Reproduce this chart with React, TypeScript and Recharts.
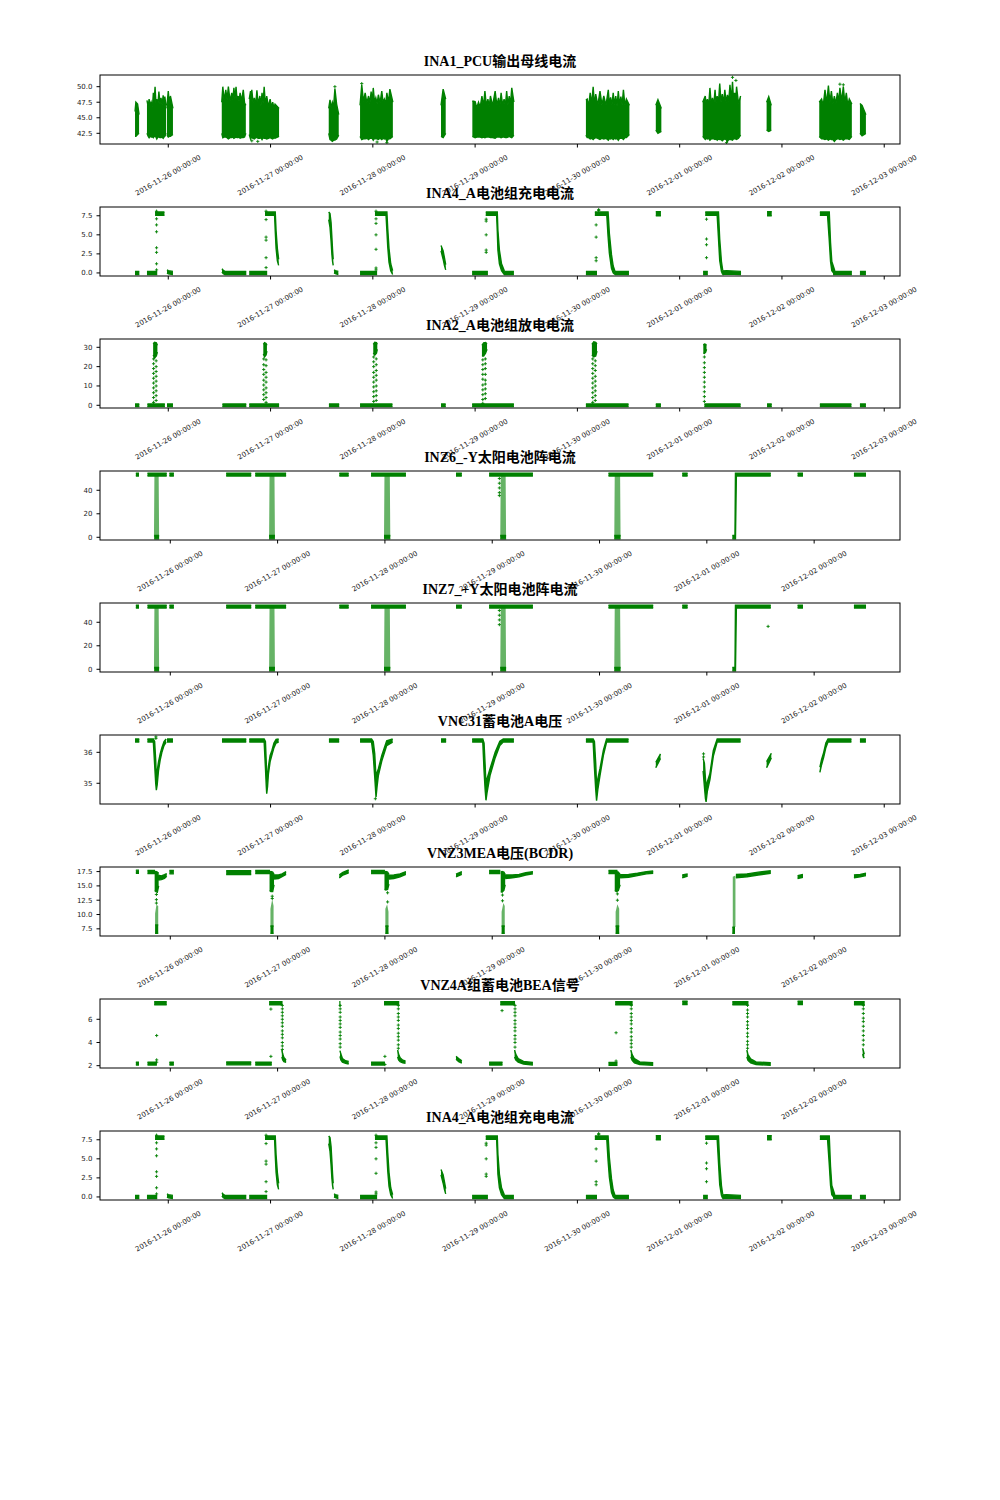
import React from 'react';
import { ComposedChart, Area, Scatter, XAxis, YAxis } from 'recharts';

const GREEN = '#008000';

// x values are hours after 2016-11-25 00:00
const dayTicks = [24, 48, 72, 96, 120, 144, 168, 192];
const dayLabels = [
  '2016-11-26 00:00:00', '2016-11-27 00:00:00', '2016-11-28 00:00:00', '2016-11-29 00:00:00',
  '2016-11-30 00:00:00', '2016-12-01 00:00:00', '2016-12-02 00:00:00', '2016-12-03 00:00:00',
];
const spanA = [7.98, 195.7];
const spanB = [8.28, 187.2];

// runs: [t, low, high] of the dense point cloud, dots: [t, [y values]] for loose points

const ina1Runs = [
  [[16.2, 42.0, 46.0], [16.4, 42.0, 47.5], [16.8, 42.3, 47.2], [17.15, 42.5, 45.5]],
  [[19.0, 42.5, 47.8], [19.3, 42.0, 46.8], [19.5, 41.8, 48.0], [19.8, 42.1, 46.9], [20.0, 41.9, 47.5], [20.3, 41.9, 46.8], [20.5, 41.8, 49.0], [20.7, 42.0, 47.6], [20.9, 42.0, 50.0], [21.1, 41.9, 47.4], [21.3, 41.6, 48.0], [21.55, 41.9, 46.9], [21.8, 41.9, 49.2], [22.05, 41.8, 47.2], [22.3, 41.8, 48.2], [22.55, 41.9, 47.0], [22.8, 41.7, 48.6], [23.0, 41.9, 47.3], [23.2, 42.0, 48.4], [23.5, 42.5, 46.5]],
  [[23.7, 42.2, 47.0], [24.0, 41.9, 49.3], [24.25, 42.0, 47.2], [24.5, 42.0, 48.5], [25.1, 42.3, 46.5]],
  [[36.55, 42.5, 47.5], [36.8, 41.8, 50.0], [37.1, 41.9, 47.8], [37.5, 41.9, 49.5], [37.8, 41.8, 47.9], [38.1, 41.6, 50.0], [38.5, 41.8, 47.7], [38.9, 41.8, 49.0], [39.15, 41.9, 47.9], [39.4, 41.7, 49.8], [39.65, 41.8, 48.0], [39.9, 41.9, 50.0], [40.15, 41.8, 47.8], [40.4, 41.8, 48.5], [40.6, 41.9, 47.6], [40.85, 41.7, 49.0], [41.2, 41.8, 47.7], [41.6, 41.8, 49.5], [41.9, 41.9, 47.4], [42.2, 42.5, 47.0]],
  [[43.0, 42.3, 48.0], [43.3, 41.6, 49.3], [43.45, 41.8, 47.6], [43.6, 41.8, 49.5], [43.9, 41.7, 47.4], [44.2, 41.6, 48.2], [44.5, 41.8, 47.0], [44.8, 41.8, 49.4], [45.1, 41.7, 47.2], [45.5, 41.7, 48.5], [45.75, 41.8, 46.9], [46.0, 41.5, 49.0], [46.25, 41.8, 47.3], [46.5, 41.7, 50.0], [46.8, 41.7, 47.0], [47.1, 41.6, 48.5], [47.5, 41.7, 46.8], [47.9, 41.8, 48.0], [48.2, 41.7, 46.7], [48.5, 41.6, 47.5], [48.8, 41.8, 46.6], [49.05, 41.7, 47.2], [50.0, 42.0, 46.5]],
  [[61.65, 42.5, 46.5], [61.95, 41.5, 47.9], [62.2, 41.4, 46.6], [62.5, 41.2, 47.5], [62.8, 41.4, 46.8], [63.1, 41.4, 49.7], [63.5, 41.6, 47.2], [64.0, 42.2, 45.5]],
  [[69.0, 42.0, 47.0], [69.4, 41.5, 50.3], [69.8, 41.6, 47.6], [70.2, 41.6, 49.0], [70.6, 41.7, 47.4], [71.0, 41.5, 48.5], [71.3, 41.7, 47.3], [71.6, 41.7, 49.2], [71.85, 41.7, 47.6], [72.1, 41.4, 49.8], [72.4, 41.7, 47.5], [72.7, 41.6, 48.2], [73.0, 41.6, 47.3], [73.3, 41.5, 48.7], [73.7, 41.7, 47.4], [74.1, 41.5, 49.3], [74.4, 41.7, 47.5], [74.7, 41.6, 48.0], [75.0, 41.7, 47.2], [75.3, 41.2, 49.0], [75.65, 41.6, 47.4], [76.0, 41.6, 49.6], [76.7, 42.0, 47.5]],
  [[88.0, 42.0, 47.0], [88.5, 41.8, 49.6], [89.1, 42.5, 48.0]],
  [[95.35, 42.0, 47.7], [96.0, 41.8, 47.6], [96.4, 41.9, 46.6], [96.8, 41.9, 47.5], [97.2, 41.9, 46.7], [97.6, 41.8, 48.5], [97.95, 41.9, 46.8], [98.3, 41.8, 49.3], [98.65, 41.9, 46.9], [99.0, 41.9, 48.0], [99.3, 41.9, 46.8], [99.6, 41.8, 48.5], [100.1, 41.8, 46.9], [100.7, 41.7, 49.3], [101.1, 41.9, 47.0], [101.5, 41.9, 48.2], [101.8, 41.9, 46.8], [102.1, 41.8, 49.0], [102.45, 41.9, 47.0], [102.8, 41.9, 48.0], [103.1, 41.8, 46.9], [103.4, 41.8, 49.3], [103.7, 41.9, 47.1], [104.0, 42.0, 48.5], [104.3, 41.9, 47.2], [104.6, 41.8, 49.8], [105.1, 42.2, 47.5]],
  [[122.0, 42.2, 47.8], [122.3, 41.8, 48.0], [122.65, 41.8, 46.9], [123.0, 41.6, 49.0], [123.35, 41.7, 47.2], [123.7, 41.5, 50.0], [124.0, 41.7, 47.0], [124.3, 41.8, 48.8], [124.8, 41.7, 47.0], [125.3, 41.5, 49.3], [125.75, 41.7, 47.1], [126.2, 41.6, 48.5], [126.7, 41.7, 47.0], [127.25, 41.4, 49.5], [127.5, 41.7, 47.2], [127.8, 41.6, 48.3], [128.1, 41.7, 47.0], [128.4, 41.5, 49.0], [128.7, 41.7, 47.1], [129.0, 41.6, 48.5], [129.3, 41.7, 46.9], [129.6, 41.4, 49.3], [129.9, 41.7, 47.0], [130.2, 41.7, 48.4], [130.5, 41.7, 47.1], [130.8, 41.5, 49.5], [131.15, 41.8, 47.0], [131.5, 41.8, 48.0], [132.2, 42.3, 47.0]],
  [[138.4, 43.0, 47.0], [138.9, 42.5, 47.9], [139.7, 42.8, 46.5]],
  [[149.4, 42.0, 47.5], [150.0, 41.5, 48.5], [150.25, 41.7, 47.0], [150.5, 41.6, 48.0], [150.8, 41.7, 46.9], [151.1, 41.4, 49.8], [151.4, 41.6, 47.2], [151.7, 41.6, 48.2], [152.0, 41.6, 47.0], [152.3, 41.5, 49.5], [152.55, 41.6, 47.3], [152.8, 41.4, 48.5], [153.1, 41.6, 47.4], [153.4, 41.5, 50.5], [153.7, 41.5, 47.5], [154.0, 41.3, 48.8], [154.3, 41.5, 47.3], [154.6, 41.6, 49.5], [154.9, 41.5, 47.4], [155.2, 41.2, 48.7], [155.5, 41.5, 47.6], [155.8, 41.5, 50.3], [156.1, 41.5, 47.8], [156.4, 41.4, 50.8], [156.65, 41.6, 47.6], [156.9, 41.6, 49.0], [157.1, 41.6, 47.5], [157.35, 41.5, 50.0], [157.8, 41.7, 47.3], [158.3, 42.2, 48.5]],
  [[164.4, 43.0, 47.5], [164.9, 42.8, 48.4], [165.5, 43.0, 47.0]],
  [[176.75, 42.0, 47.5], [177.3, 41.6, 48.0], [177.7, 41.6, 47.0], [178.1, 41.5, 49.5], [178.5, 41.6, 47.3], [178.9, 41.4, 50.2], [179.25, 41.6, 47.4], [179.6, 41.5, 49.3], [179.95, 41.5, 47.2], [180.3, 41.2, 48.5], [180.65, 41.5, 47.2], [181.0, 41.6, 49.0], [181.3, 41.6, 47.5], [181.6, 41.5, 49.8], [182.0, 41.6, 47.6], [182.4, 41.4, 50.0], [182.75, 41.6, 47.4], [183.1, 41.6, 49.0], [183.45, 41.6, 47.0], [183.8, 41.5, 48.0], [184.4, 42.0, 47.2]],
  [[186.3, 42.5, 47.3], [186.8, 42.1, 47.0], [187.7, 42.5, 45.5]],
];
const ina1Dots = [
  [43.6, [41.3]], [45.0, [41.2]], [63.1, [50.0]], [69.4, [50.5]], [73.0, [41.1]], [75.3, [41.0]],
  [155.0, [41.0]], [156.4, [51.5]], [157.2, [51.0]], [181.6, [50.4]], [182.4, [50.3]],
];

const ina4Runs = [
  [[16.2, -0.2, 0.2], [17.2, -0.2, 0.2]],
  [[19.0, -0.2, 0.2], [21.4, -0.2, 0.2]],
  [[20.9, 7.55, 8.0], [23.1, 7.55, 8.0]],
  [[23.7, 0.0, 0.4], [24.0, -0.1, 0.3], [25.1, -0.2, 0.2]],
  [[36.6, 0.15, 0.55], [36.9, -0.1, 0.35], [37.3, -0.2, 0.2], [42.3, -0.2, 0.2]],
  [[43.0, -0.2, 0.2], [47.2, -0.2, 0.2]],
  [[46.7, 7.55, 8.0], [48.95, 7.55, 8.0], [49.1, 5.5, 8.0], [49.3, 3.2, 5.5], [49.6, 1.6, 3.2], [49.9, 1.0, 1.8]],
  [[61.65, 7.0, 8.0], [61.95, 6.0, 7.8], [62.2, 4.2, 6.6], [62.4, 2.4, 4.6], [62.55, 1.5, 3.0], [62.7, 1.0, 1.8]],
  [[62.9, 0.0, 0.4], [63.2, -0.1, 0.3], [63.9, -0.2, 0.2]],
  [[69.0, -0.2, 0.2], [73.0, -0.2, 0.2]],
  [[72.5, 7.55, 8.0], [75.1, 7.55, 8.0], [75.3, 5.5, 8.0], [75.5, 3.4, 5.8], [75.8, 1.4, 3.2], [76.2, 0.3, 1.2], [76.65, -0.2, 0.3]],
  [[88.0, 2.9, 3.6], [88.5, 1.8, 2.9], [88.8, 1.0, 2.0], [89.1, 0.4, 1.1]],
  [[95.3, -0.2, 0.2], [99.0, -0.2, 0.2]],
  [[98.5, 7.55, 8.0], [101.05, 7.55, 8.0], [101.2, 5.5, 8.0], [101.35, 3.0, 5.6], [101.7, 1.2, 3.0], [102.2, 0.3, 1.2], [102.85, -0.2, 0.3]],
  [[102.8, -0.2, 0.2], [105.1, -0.2, 0.2]],
  [[122.0, -0.2, 0.2], [124.6, -0.2, 0.2]],
  [[124.1, 7.55, 8.0], [126.9, 7.55, 8.0], [127.2, 4.8, 8.0], [127.5, 2.6, 5.2], [128.0, 0.6, 2.4], [128.4, 0.0, 0.9], [128.8, -0.2, 0.25]],
  [[128.8, -0.2, 0.2], [132.1, -0.2, 0.2]],
  [[138.4, 7.5, 8.05], [139.6, 7.5, 8.05]],
  [[149.5, -0.2, 0.2], [150.6, -0.2, 0.2]],
  [[150.0, 7.55, 8.0], [152.8, 7.55, 8.0], [153.1, 4.6, 8.0], [153.4, 1.6, 4.4], [153.8, 0.2, 1.5], [154.1, -0.2, 0.35]],
  [[154.1, -0.2, 0.25], [155.0, -0.15, 0.3], [158.4, -0.2, 0.2]],
  [[164.5, 7.5, 8.05], [165.6, 7.5, 8.05]],
  [[176.9, 7.55, 8.0], [178.7, 7.55, 8.0], [179.1, 4.3, 8.0], [179.4, 1.5, 4.0], [179.7, 0.3, 1.5], [180.4, -0.2, 0.3]],
  [[180.0, -0.2, 0.2], [184.4, -0.2, 0.2]],
  [[186.3, -0.2, 0.2], [187.7, -0.2, 0.2]],
];
const ina4Dots = [
  [21.25, [8.1, 7.1, 6.3, 5.4, 3.3, 2.7, 1.2, 0.4]],
  [46.95, [8.1, 7.0, 4.7, 4.3, 2.0, 0.7]],
  [72.75, [8.1, 7.1, 6.5, 5.0, 3.1, 0.65, 0.4]],
  [98.6, [7.05, 6.8, 5.0, 3.0, 2.7]],
  [124.4, [6.3, 4.7, 2.0, 1.6]],
  [125.0, [8.3, 8.2]],
  [150.3, [7.05, 4.45, 3.7, 2.0]],
];

const ina2Runs = [
  [[16.2, -0.7, 0.7], [17.2, -0.7, 0.7]],
  [[19.1, -0.7, 0.7], [23.2, -0.7, 0.7]],
  [[20.45, 26, 31.8], [20.8, 24.5, 32.6], [21.2, 25.5, 32.3], [21.45, 27.5, 31]],
  [[23.7, -0.7, 0.7], [25.1, -0.7, 0.7]],
  [[36.7, -0.7, 0.7], [42.3, -0.7, 0.7]],
  [[43.0, -0.7, 0.7], [50.0, -0.7, 0.7]],
  [[46.3, 26.5, 31.5], [46.6, 25, 32.4], [46.95, 26, 32], [47.15, 28, 31]],
  [[61.7, -0.7, 0.7], [64.1, -0.7, 0.7]],
  [[69.0, -0.7, 0.7], [76.6, -0.7, 0.7]],
  [[72.1, 27, 31.5], [72.45, 26, 32.6], [72.85, 27, 32.4], [73.05, 29, 31.5]],
  [[88.0, -0.7, 0.7], [89.1, -0.7, 0.7]],
  [[95.3, -0.7, 0.7], [105.1, -0.7, 0.7]],
  [[97.6, 25.5, 31], [98.0, 25.5, 32.3], [98.45, 27, 32.5], [98.8, 29, 31.8]],
  [[122.0, -0.7, 0.7], [132.0, -0.7, 0.7]],
  [[123.4, 26, 31.5], [123.85, 25, 32.9], [124.3, 25.5, 32.6], [124.6, 28, 31.8]],
  [[138.4, -0.7, 0.7], [139.6, -0.7, 0.7]],
  [[149.8, -0.7, 0.7], [158.3, -0.7, 0.7]],
  [[149.55, 27, 31.2], [149.8, 26.8, 31.7], [150.1, 27.5, 31.5], [150.3, 29, 31]],
  [[164.5, -0.7, 0.7], [165.6, -0.7, 0.7]],
  [[176.9, -0.7, 0.7], [184.3, -0.7, 0.7]],
  [[186.3, -0.7, 0.7], [187.7, -0.7, 0.7]],
];
const ina2Dots = [
  [20.55, [24, 21.5, 19, 16.5, 14, 11.5, 9, 6.5, 4, 1.5]],
  [21.15, [23, 20, 17.5, 15, 12.5, 10, 7.5, 5, 2.5]],
  [46.4, [24, 21, 18.5, 16, 13, 10.5, 8, 5.5, 3]],
  [46.95, [23.5, 20.5, 17, 14.5, 12, 9, 6.5, 4, 1.5]],
  [72.2, [25, 22.5, 20, 17, 14.5, 12, 9.5, 7, 4.5, 2]],
  [72.8, [24, 21, 18, 15.5, 13, 10, 7.5, 5, 2.5]],
  [97.8, [23.5, 21, 18.5, 16, 13.5, 10.5, 8, 5.5, 3, 1]],
  [98.4, [24, 21.5, 19, 16, 13, 11, 8.5, 6, 3.5]],
  [123.6, [24, 21.5, 19, 16.5, 14, 11.5, 9, 6.5, 4, 1.5]],
  [124.2, [23, 20.5, 18, 15, 12.5, 10, 7.5, 5, 2.5]],
  [149.8, [25, 22, 19.5, 17, 14.5, 12, 9.5, 7, 4.5, 2]],
];

const inz6Runs = [
  [[16.3, 52.2, 54.6], [17.0, 52.2, 54.6]],
  [[18.9, 52.2, 54.6], [23.2, 52.2, 54.6]],
  [[20.4, -1.3, 1.6], [21.5, -1.3, 1.6]],
  [[23.8, 52.2, 54.6], [24.8, 52.2, 54.6]],
  [[36.5, 52.2, 54.6], [42.1, 52.2, 54.6]],
  [[43.0, 52.2, 54.6], [49.9, 52.2, 54.6]],
  [[46.1, -1.3, 1.6], [47.4, -1.3, 1.6]],
  [[61.8, 52.2, 54.6], [63.9, 52.2, 54.6]],
  [[68.9, 52.2, 54.6], [76.7, 52.2, 54.6]],
  [[71.8, -1.3, 1.6], [73.2, -1.3, 1.6]],
  [[87.9, 52.2, 54.6], [89.2, 52.2, 54.6]],
  [[95.3, 52.2, 54.6], [105.1, 52.2, 54.6]],
  [[97.8, -1.3, 1.6], [99.1, -1.3, 1.6]],
  [[122.0, 52.2, 54.6], [132.0, 52.2, 54.6]],
  [[123.3, -1.3, 1.6], [124.7, -1.3, 1.6]],
  [[138.5, 52.2, 54.6], [139.7, 52.2, 54.6]],
  [[149.7, -1.3, 1.6], [150.3, -1.3, 1.6], [150.4, -1.3, 54.6], [150.6, 52.2, 54.6], [158.3, 52.2, 54.6]],
  [[164.3, 52.2, 54.6], [165.5, 52.2, 54.6]],
  [[176.9, 52.2, 54.6], [179.6, 52.2, 54.6]],
];
const inz6Haze = [
  [[20.35, 0, 1], [20.45, 0, 53.4], [21.4, 0, 53.4], [21.5, 0, 1]],
  [[46.1, 0, 1], [46.2, 0, 53.4], [47.3, 0, 53.4], [47.4, 0, 1]],
  [[71.8, 0, 1], [71.9, 0, 53.4], [73.1, 0, 53.4], [73.2, 0, 1]],
  [[97.8, 0, 1], [97.9, 0, 53.4], [99.0, 0, 53.4], [99.1, 0, 1]],
  [[123.3, 0, 1], [123.4, 0, 53.4], [124.6, 0, 53.4], [124.7, 0, 1]],
];
const inz6Dots = [[97.6, [50, 46, 42, 38, 35.5]]];
const inz7Dots = [[97.6, [50, 46, 42, 38]], [157.7, [36.5]]];

const vnc31Runs = [
  [[16.2, 36.33, 36.43], [17.2, 36.33, 36.43]],
  [[19.1, 36.33, 36.43], [20.5, 36.33, 36.43], [20.8, 35.6, 36.35], [21.05, 35.0, 35.75], [21.2, 34.78, 35.15], [21.4, 34.95, 35.4], [21.7, 35.4, 35.68], [22.1, 35.75, 35.95], [22.5, 36.0, 36.15], [23.0, 36.22, 36.35], [23.5, 36.33, 36.43]],
  [[23.7, 36.33, 36.43], [25.1, 36.33, 36.43]],
  [[36.6, 36.33, 36.43], [42.3, 36.33, 36.43]],
  [[43.0, 36.33, 36.43], [46.5, 36.33, 36.43], [46.8, 35.5, 36.35], [47.0, 34.9, 35.65], [47.1, 34.66, 35.05], [47.3, 34.9, 35.3], [47.5, 35.3, 35.55], [47.9, 35.7, 35.9], [48.3, 35.9, 36.05], [48.8, 36.15, 36.3], [49.3, 36.3, 36.42], [49.9, 36.33, 36.43]],
  [[61.7, 36.33, 36.43], [64.1, 36.33, 36.43]],
  [[69.0, 36.33, 36.43], [71.7, 36.33, 36.43], [72.1, 35.9, 36.35], [72.45, 35.2, 35.95], [72.75, 34.55, 35.15], [73.0, 34.9, 35.35], [73.3, 35.25, 35.47], [74.1, 35.72, 35.9], [75.25, 36.22, 36.37], [76.65, 36.33, 36.43]],
  [[88.0, 36.33, 36.43], [89.2, 36.33, 36.43]],
  [[95.3, 36.33, 36.43], [97.8, 36.33, 36.43], [98.1, 35.4, 36.3], [98.35, 34.8, 35.6], [98.55, 34.45, 34.95], [98.8, 34.7, 35.15], [99.5, 35.25, 35.47], [100.7, 35.82, 36.0], [101.8, 36.22, 36.36], [102.6, 36.33, 36.43], [105.1, 36.33, 36.43]],
  [[122.0, 36.33, 36.43], [123.7, 36.33, 36.43], [124.0, 35.5, 36.35], [124.3, 34.8, 35.65], [124.5, 34.44, 34.95], [124.8, 34.8, 35.15], [125.3, 35.25, 35.47], [126.1, 35.9, 36.07], [126.85, 36.33, 36.43], [132.0, 36.33, 36.43]],
  [[138.4, 35.5, 35.68], [139.5, 35.8, 35.95]],
  [[149.5, 35.4, 35.8], [149.8, 34.9, 35.65], [150.05, 34.5, 35.15], [150.2, 34.4, 34.85], [150.5, 34.75, 35.05], [151.1, 35.12, 35.32], [151.9, 35.88, 36.06], [152.8, 36.33, 36.43], [158.3, 36.33, 36.43]],
  [[164.4, 35.5, 35.7], [165.5, 35.82, 35.97]],
  [[176.9, 35.35, 35.52], [177.3, 35.6, 35.77], [177.8, 35.85, 36.0], [178.3, 36.15, 36.3], [178.8, 36.33, 36.43], [184.3, 36.33, 36.43]],
  [[186.3, 36.33, 36.43], [187.7, 36.33, 36.43]],
];
const vnc31Dots = [[21.1, [36.5, 36.45]], [72.6, [34.5]], [149.6, [35.95, 35.85]]];

const vnz3Runs = [
  [[16.3, 17.2, 17.75], [17.0, 17.2, 17.75]],
  [[18.9, 17.15, 17.7], [20.6, 17.15, 17.7]],
  [[20.5, 14.2, 17.4], [20.8, 14.0, 17.5], [21.1, 13.9, 17.4], [21.4, 15.0, 17.2]],
  [[20.6, 6.7, 8.2], [21.3, 6.7, 8.2]],
  [[21.3, 16.0, 16.85], [22.0, 16.1, 16.75], [22.7, 16.3, 16.95], [23.2, 16.7, 17.15]],
  [[23.8, 17.1, 17.7], [24.8, 17.1, 17.7]],
  [[36.5, 17.0, 17.65], [42.1, 17.0, 17.65]],
  [[43.0, 17.15, 17.7], [46.3, 17.15, 17.7]],
  [[46.2, 14.2, 17.4], [46.5, 14.0, 17.5], [46.9, 14.0, 17.4], [47.2, 15.2, 17.0]],
  [[46.4, 6.7, 8.0], [47.1, 6.7, 8.0]],
  [[47.2, 16.2, 16.9], [48.2, 16.3, 16.9], [49.0, 16.6, 17.1], [49.9, 17.0, 17.5]],
  [[61.8, 16.4, 16.95], [62.6, 16.9, 17.35], [63.9, 17.3, 17.8]],
  [[68.9, 17.15, 17.7], [72.0, 17.15, 17.7]],
  [[71.9, 14.4, 17.4], [72.2, 14.3, 17.5], [72.6, 14.4, 17.4], [72.9, 15.3, 17.0]],
  [[72.1, 6.7, 8.0], [72.8, 6.7, 8.0]],
  [[72.9, 16.2, 16.85], [74.0, 16.3, 16.9], [75.4, 16.6, 17.1], [76.7, 17.0, 17.5]],
  [[87.9, 16.6, 17.05], [89.2, 17.0, 17.5]],
  [[95.3, 17.15, 17.7], [97.8, 17.15, 17.7]],
  [[97.9, 14.0, 17.4], [98.2, 13.9, 17.5], [98.6, 14.2, 17.4], [98.9, 15.2, 17.0]],
  [[98.1, 6.7, 8.0], [98.8, 6.7, 8.0]],
  [[98.9, 16.3, 16.9], [100.5, 16.4, 16.9], [102.0, 16.6, 17.0], [103.5, 16.9, 17.3], [105.1, 17.1, 17.5]],
  [[122.0, 17.15, 17.7], [124.0, 17.15, 17.7]],
  [[123.4, 14.2, 17.4], [123.8, 14.0, 17.5], [124.2, 14.2, 17.4], [124.6, 15.2, 17.0]],
  [[123.6, 6.7, 8.0], [124.4, 6.7, 8.0]],
  [[124.6, 16.4, 16.95], [126.5, 16.5, 17.0], [128.5, 16.8, 17.2], [130.5, 17.1, 17.5], [132.0, 17.2, 17.6]],
  [[138.5, 16.4, 16.9], [139.7, 16.7, 17.1]],
  [[149.7, 6.7, 7.8], [150.3, 6.7, 7.8]],
  [[150.5, 16.4, 17.0], [153.0, 16.6, 17.1], [155.5, 16.9, 17.4], [158.3, 17.2, 17.65]],
  [[164.3, 16.3, 16.8], [165.5, 16.5, 17.0]],
  [[176.9, 16.4, 16.9], [178.3, 16.6, 17.0], [179.6, 16.8, 17.2]],
];
const vnz3Haze = [
  [[20.6, 8.2, 10.2], [20.9, 8.2, 11.7], [21.3, 8.2, 11.5]],
  [[46.4, 8.0, 11.0], [46.8, 8.0, 12.7], [47.1, 8.0, 11.5]],
  [[72.1, 8.0, 11.0], [72.5, 8.0, 11.8], [72.8, 8.0, 10.5]],
  [[98.1, 8.0, 10.5], [98.5, 8.0, 12.0], [98.8, 8.0, 11.5]],
  [[123.6, 8.0, 10.5], [124.0, 8.0, 11.8], [124.4, 8.0, 11.0]],
  [[149.8, 7.8, 16.6], [150.4, 7.8, 16.8]],
];
const vnz3Dots = [[20.9, [13.5, 12.6, 12.0]], [46.8, [13.2, 12.8]], [72.6, [13.8, 12.2]], [98.3, [13.4, 12.4]], [124.0, [13.6, 12.5]]];

const vnz4Runs = [
  [[16.3, 2.05, 2.3], [17.0, 2.05, 2.3]],
  [[18.9, 2.05, 2.3], [21.0, 2.05, 2.3]],
  [[20.4, 7.25, 7.52], [23.2, 7.25, 7.52]],
  [[23.8, 2.05, 2.3], [24.8, 2.05, 2.3]],
  [[36.5, 2.07, 2.32], [42.1, 2.07, 2.32]],
  [[43.0, 2.05, 2.3], [46.7, 2.05, 2.3]],
  [[46.1, 7.25, 7.52], [49.1, 7.25, 7.52]],
  [[48.95, 2.75, 3.35], [49.15, 2.5, 3.0], [49.4, 2.35, 2.7], [49.9, 2.28, 2.5]],
  [[61.8, 7.15, 7.52], [62.05, 7.15, 7.52]],
  [[61.95, 2.8, 3.3], [62.15, 2.5, 3.0], [62.5, 2.3, 2.62], [63.2, 2.2, 2.42], [63.9, 2.15, 2.37]],
  [[68.9, 2.05, 2.3], [72.0, 2.05, 2.3]],
  [[71.8, 7.25, 7.52], [75.2, 7.25, 7.52]],
  [[74.85, 2.75, 3.35], [75.05, 2.5, 3.0], [75.4, 2.35, 2.68], [76.0, 2.25, 2.47], [76.6, 2.2, 2.4]],
  [[87.9, 2.55, 2.8], [88.5, 2.35, 2.62], [89.2, 2.22, 2.42]],
  [[95.3, 2.05, 2.3], [98.3, 2.05, 2.3]],
  [[97.8, 7.25, 7.52], [101.1, 7.25, 7.52]],
  [[101.0, 2.75, 3.35], [101.25, 2.5, 3.0], [101.8, 2.3, 2.62], [103.0, 2.15, 2.37], [105.1, 2.05, 2.27]],
  [[122.0, 2.03, 2.27], [124.0, 2.03, 2.27]],
  [[123.5, 7.25, 7.52], [127.4, 7.25, 7.52]],
  [[127.0, 2.75, 3.35], [127.3, 2.45, 2.95], [127.8, 2.25, 2.6], [129.0, 2.1, 2.32], [132.0, 2.03, 2.25]],
  [[138.5, 7.28, 7.55], [139.7, 7.28, 7.55]],
  [[149.7, 7.25, 7.52], [153.3, 7.25, 7.52]],
  [[152.95, 2.75, 3.35], [153.2, 2.45, 2.95], [153.8, 2.25, 2.58], [155.0, 2.1, 2.32], [158.3, 2.03, 2.25]],
  [[164.3, 7.28, 7.55], [165.5, 7.28, 7.55]],
  [[176.9, 7.25, 7.52], [179.3, 7.25, 7.52]],
  [[178.85, 3.0, 3.5], [179.0, 2.75, 3.3], [179.2, 2.65, 3.0]],
];
const vnz4Dots = [
  [20.95, [4.6, 2.5, 2.3]],
  [46.5, [6.88, 2.8]],
  [49.06, [7.2, 6.9, 6.6, 6.3, 6.0, 5.7, 5.4, 5.0, 4.7, 4.4, 4.0, 3.7, 3.4]],
  [62.0, [7.2, 6.9, 6.6, 6.2, 5.9, 5.6, 5.3, 4.9, 4.6, 4.3, 3.9, 3.6]],
  [72.0, [2.8, 2.1]],
  [75.0, [7.2, 6.9, 6.5, 6.2, 5.9, 5.5, 5.2, 4.8, 4.5, 4.2, 3.8, 3.5]],
  [98.2, [6.75]],
  [101.1, [7.2, 6.9, 6.6, 6.3, 5.9, 5.6, 5.3, 5.0, 4.6, 4.3, 4.0, 3.6]],
  [123.7, [4.84, 2.4]],
  [127.1, [7.2, 6.9, 6.5, 6.2, 5.9, 5.6, 5.2, 4.9, 4.5, 4.2, 3.9, 3.6]],
  [153.1, [7.2, 6.8, 6.5, 6.2, 5.8, 5.5, 5.2, 4.8, 4.5, 4.1, 3.8, 3.5]],
  [179.0, [7.2, 6.9, 6.5, 6.1, 5.8, 5.4, 5.0, 4.6, 4.2, 3.8]],
];

const panels: any[] = [
  { title: 'INA1_PCU输出母线电流', runs: ina1Runs, haze: [], dots: ina1Dots, span: spanA, yDomain: [40.78, 51.88], yTicks: [42.5, 45, 47.5, 50], digits: 1 },
  { title: 'INA4_A电池组充电电流', runs: ina4Runs, haze: [], dots: ina4Dots, span: spanA, yDomain: [-0.4, 8.65], yTicks: [0, 2.5, 5, 7.5], digits: 1 },
  { title: 'INA2_A电池组放电电流', runs: ina2Runs, haze: [], dots: ina2Dots, span: spanA, yDomain: [-1.4, 34.3], yTicks: [0, 10, 20, 30], digits: 0 },
  { title: 'INZ6_-Y太阳电池阵电流', runs: inz6Runs, haze: inz6Haze, dots: inz6Dots, span: spanB, yDomain: [-2.3, 56.4], yTicks: [0, 20, 40], digits: 0 },
  { title: 'INZ7_+Y太阳电池阵电流', runs: inz6Runs, haze: inz6Haze, dots: inz7Dots, span: spanB, yDomain: [-2.3, 56.4], yTicks: [0, 20, 40], digits: 0 },
  { title: 'VNC31蓄电池A电压', runs: vnc31Runs, haze: [], dots: vnc31Dots, span: spanA, yDomain: [34.33, 36.56], yTicks: [35, 36], digits: 0 },
  { title: 'VNZ3MEA电压(BCDR)', runs: vnz3Runs, haze: vnz3Haze, dots: vnz3Dots, span: spanB, yDomain: [6.25, 18.3], yTicks: [7.5, 10, 12.5, 15, 17.5], digits: 1 },
  { title: 'VNZ4A组蓄电池BEA信号', runs: vnz4Runs, haze: [], dots: vnz4Dots, span: spanB, yDomain: [1.8, 7.75], yTicks: [2, 4, 6], digits: 0 },
  { title: 'INA4_A电池组充电电流', runs: ina4Runs, haze: [], dots: ina4Dots, span: spanA, yDomain: [-0.4, 8.65], yTicks: [0, 2.5, 5, 7.5], digits: 1 },
];

function toRows(runs: number[][][], haze: number[][][]) {
  const rows: any[] = [];
  runs.forEach((run) => {
    run.forEach(([t, lo, hi]) => rows.push({ t, band: [lo, hi] }));
    rows.push({ t: run[run.length - 1][0], band: null });
  });
  haze.forEach((run) => {
    run.forEach(([t, lo, hi]) => rows.push({ t, haze: [lo, hi] }));
    rows.push({ t: run[run.length - 1][0], haze: null });
  });
  return rows;
}

const Plus = (p: any) => {
  const { cx, cy } = p;
  if (cx == null || cy == null) return <g />;
  return <path d={`M${cx - 1.6},${cy}H${cx + 1.6}M${cx},${cy - 1.6}V${cy + 1.6}`} stroke={GREEN} strokeWidth={0.9} />;
};

const DateTick = (p: any) => {
  const { x, y, payload } = p;
  const cy = y + 26;
  return (
    <text x={x} y={cy} transform={`rotate(-30 ${x} ${cy})`} textAnchor="middle" dominantBaseline="central"
      fontSize={7} fontFamily="'DejaVu Sans'" fill="#222">
      {dayLabels[dayTicks.indexOf(payload.value)]}
    </text>
  );
};

const PLOT_H = 69;
const top0 = 75;
const gap = 132;

function Panel({ p, top }: any) {
  const rows = toRows(p.runs, p.haze);
  const dots = p.dots.flatMap(([t, ys]: any) => ys.map((y: number) => ({ t, y })));
  const ticks = dayTicks.filter((d) => d >= p.span[0] && d <= p.span[1]);
  return (
    <div style={{ position: 'absolute', left: 0, top: top - 20 }}>
      <ComposedChart width={1000} height={150} data={rows} margin={{ top: 20, right: 100, bottom: 21, left: 60 }}>
        <XAxis dataKey="t" type="number" domain={p.span} allowDataOverflow ticks={ticks} interval={0}
          tick={<DateTick />} tickSize={3.5} tickMargin={2} tickLine={{ stroke: '#000' }} axisLine={false} height={40} />
        <YAxis type="number" domain={p.yDomain} allowDataOverflow ticks={p.yTicks} interval={0}
          tickFormatter={(v: number) => v.toFixed(p.digits)}
          tick={{ fontSize: 7, fill: '#222', fontFamily: 'DejaVu Sans' }} tickSize={3.5} tickMargin={4}
          tickLine={{ stroke: '#000' }} axisLine={false} width={40} />
        <Area dataKey="haze" type="linear" stroke="none" fill={GREEN} fillOpacity={0.6} connectNulls={false}
          isAnimationActive={false} dot={false} activeDot={false} />
        <Area dataKey="band" type="linear" stroke={GREEN} strokeWidth={1.4} fill={GREEN} fillOpacity={1}
          connectNulls={false} isAnimationActive={false} dot={false} activeDot={false} />
        <Scatter data={dots} dataKey="y" shape={<Plus />} isAnimationActive={false} />
      </ComposedChart>
    </div>
  );
}

export default function App() {
  return (
    <div style={{ position: 'absolute', left: 0, top: 0, width: 1000, height: 1500, background: '#fff' }}>
      {panels.map((p, i) => (
        <Panel key={i} p={p} top={top0 + gap * i} />
      ))}
      <svg width={1000} height={1500} style={{ position: 'absolute', left: 0, top: 0, pointerEvents: 'none' }}>
        {panels.map((p, i) => (
          <g key={i}>
            <rect x={100} y={top0 + gap * i} width={800} height={PLOT_H} fill="none" stroke="#000" strokeWidth={1} />
            <text x={500} y={top0 + gap * i - 9} textAnchor="middle" fontSize={14} fontWeight="bold"
              fontFamily="'Liberation Serif', 'Noto Sans CJK SC', serif" fill="#000">
              {p.title}
            </text>
          </g>
        ))}
      </svg>
    </div>
  );
}
